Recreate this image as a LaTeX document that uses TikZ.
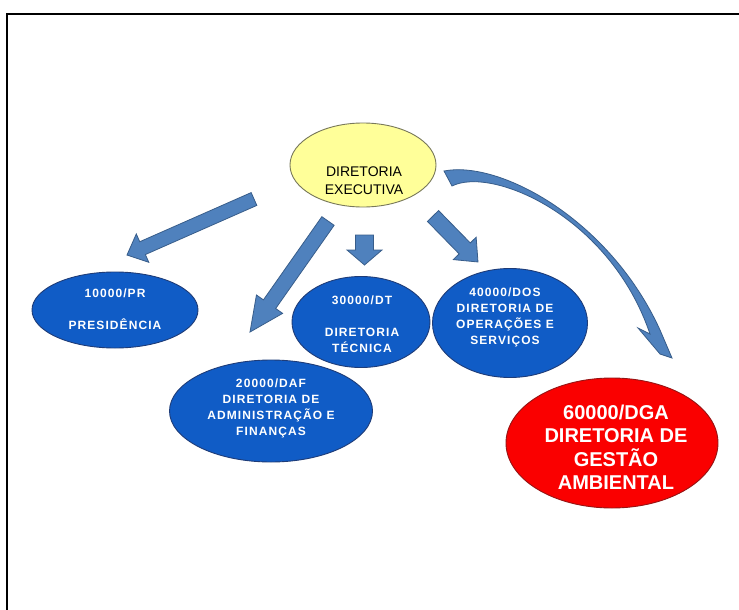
\documentclass[tikz,border=0pt]{standalone}
\usepackage{fontspec}
\setmainfont{Liberation Sans}
\usetikzlibrary{shapes.geometric,calc}
\definecolor{arrfill}{RGB}{79,129,189}
\definecolor{arrline}{RGB}{56,93,138}
\definecolor{bluefill}{RGB}{16,92,198}
\definecolor{blueline}{RGB}{30,60,120}
\definecolor{yelfill}{RGB}{255,255,153}
\definecolor{yelline}{RGB}{120,120,90}
\definecolor{redfill}{RGB}{250,0,0}
\definecolor{redline}{RGB}{150,20,20}
% #1 tail coordinate, #2 tip coordinate, #3 half shaft, #4 half head, #5 head length
\newcommand\blockarrow[5]{%
  \path let \p1=(#1), \p2=(#2),
    \n1={atan2(\y2-\y1,\x2-\x1)}, \n2={veclen(\x2-\x1,\y2-\y1)} in
    \pgfextra{\xdef\baang{\n1}\xdef\balen{\n2}};
  \begin{scope}[shift={(#1)}, rotate=\baang]
    \filldraw[barrow] (0pt,-#3pt) -- ({\balen-#5pt},-#3pt) -- ({\balen-#5pt},-#4pt)
      -- ({\balen},0pt) -- ({\balen-#5pt},#4pt) -- ({\balen-#5pt},#3pt)
      -- (0pt,#3pt) -- cycle;
  \end{scope}}
\begin{document}
\begin{tikzpicture}[x=1pt,y=-1pt,
  barrow/.style={fill=arrfill, draw=arrline, line width=0.8pt, line join=miter},
  oval/.style={ellipse, inner sep=0pt, line width=0.9pt},
  blueoval/.style={oval, draw=blueline, fill=bluefill},
  bluetext/.style={text=white, align=center, inner sep=0pt,
    font=\fontsize{12}{16}\selectfont\bfseries\addfontfeatures{LetterSpace=9}},
  redtext/.style={text=white, align=center, inner sep=0pt,
    font=\fontsize{20}{23.5}\selectfont\bfseries},
  yeltext/.style={text=black, align=center, inner sep=0pt,
    font=\fontsize{14}{18}\selectfont}]
\useasboundingbox (0,0) rectangle (739,610);
\fill[white] (0,0) rectangle (739,610);
% frame
\draw[line width=1.4pt] (7,612) -- (7,14) -- (741,14);

% ellipses
\node[oval, draw=yelline, fill=yelfill, minimum width=146, minimum height=84] (exec) at (363,165) {};
\node[yeltext] (exect) at (364,181) {DIRETORIA\\EXECUTIVA};

\node[blueoval, minimum width=166, minimum height=76] (pr) at (115,310) {};
\node[bluetext] (prt) at (115,309) {10000/PR\\[16pt]PRESIDÊNCIA};

\node[blueoval, minimum width=138, minimum height=91] (dt) at (361,322) {};
\node[bluetext] (dtt) at (362,324) {30000/DT\\[16pt]DIRETORIA\\TÉCNICA};

\node[blueoval, minimum width=155, minimum height=109] (dos) at (510,323) {};
\node[bluetext] (dost) at (505,317) {40000/DOS\\DIRETORIA DE\\OPERAÇÕES E\\SERVIÇOS};

\node[blueoval, minimum width=203, minimum height=102] (daf) at (271,411) {};
\node[bluetext] (daft) at (271,408) {20000/DAF\\DIRETORIA DE\\ADMINISTRAÇÃO E\\FINANÇAS};

\node[oval, draw=redline, fill=redfill, minimum width=212, minimum height=130] (dga) at (612,443) {};
\node[redtext] (dgat) at (616,447) {60000/DGA\\DIRETORIA DE\\GESTÃO\\AMBIENTAL};

% block arrows
\coordinate (a1s) at (254,199); \coordinate (a1e) at (127,255);
\coordinate (a2s) at (328,221); \coordinate (a2e) at (250,332);
\coordinate (a3s) at (364.5,235); \coordinate (a3e) at (364.5,265);
\coordinate (a4s) at (433,216); \coordinate (a4e) at (478,262);
\blockarrow{a1s}{a1e}{7}{15.5}{17}
\blockarrow{a2s}{a2e}{7.5}{16}{34}
\blockarrow{a3s}{a3e}{9}{17.5}{15}
\blockarrow{a4s}{a4e}{7.8}{16}{19}

% curved arrow
\filldraw[barrow] (444,171) .. controls (500,160) and (610,220) .. (660,330)
  -- (672,358) -- (660,354) -- (638,328) -- (650,334)
  .. controls (610,216) and (492,166) .. (452,186) -- cycle;
\end{tikzpicture}
\end{document}
